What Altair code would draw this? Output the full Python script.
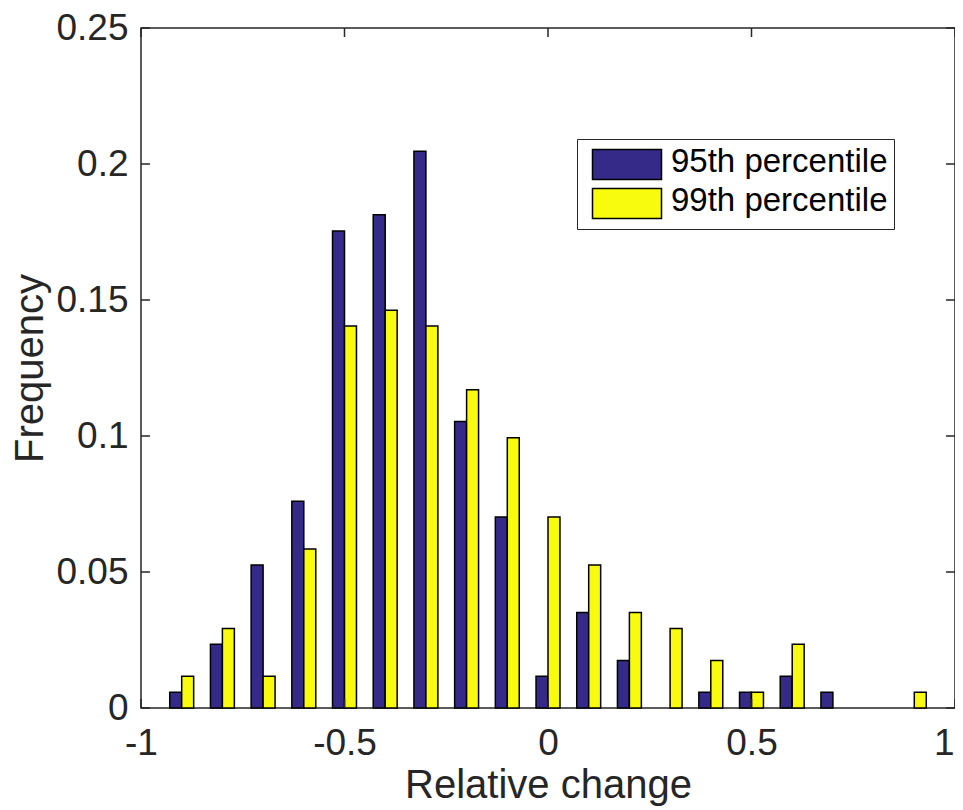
import altair as alt
import pandas as pd

# ---- data ----
centers = [-0.9, -0.8, -0.7, -0.6, -0.5, -0.4, -0.3, -0.2, -0.1, 0.0,
           0.1, 0.2, 0.3, 0.4, 0.5, 0.6, 0.7, 0.8, 0.9]
freq_95 = [0.0058, 0.0234, 0.0526, 0.0760, 0.1754, 0.1813, 0.2047, 0.1053, 0.0702, 0.0117,
           0.0351, 0.0175, 0.0, 0.0058, 0.0058, 0.0117, 0.0058, 0.0, 0.0]
freq_99 = [0.0117, 0.0292, 0.0117, 0.0585, 0.1404, 0.1462, 0.1404, 0.1170, 0.0994, 0.0702,
           0.0526, 0.0351, 0.0292, 0.0175, 0.0058, 0.0234, 0.0, 0.0, 0.0058]
series_names = ["95th percentile", "99th percentile"]
series_colors = ["#352A87", "#F9FB0E"]
x_ticks = [-1, -0.5, 0, 0.5, 1]
y_ticks = [0, 0.05, 0.1, 0.15, 0.2, 0.25]

# ---- layout constants ----
W, H = 814, 680
BAR_W = 0.0294          # bar width in data units
TICK = 9                # inward tick length (px)
FONT = "Liberation Sans"
AX_COL = "#262626"

rows = []
for c, a, b in zip(centers, freq_95, freq_99):
    rows.append({"center": c, "freq": a, "series": series_names[0]})
    rows.append({"center": c, "freq": b, "series": series_names[1]})
df = pd.DataFrame(rows)

xscale = alt.Scale(domain=[-1, 1], nice=False, zero=False)
yscale = alt.Scale(domain=[0, 0.25], nice=False)

last_x = x_ticks[-1]
x_axis = alt.Axis(values=x_ticks, title="Relative change",
                  labelExpr="toString(datum.value)",
                  labelAlign={"condition": {"test": f"datum.value == {last_x}", "value": "right"},
                              "value": "center"},
                  labelOffset={"condition": {"test": f"datum.value == {last_x}", "value": -1},
                               "value": 0},
                  titleX=W / 2, titleY=89, titleBaseline="alphabetic",
                  titleAnchor="middle", titleAlign="center",
                  labelPadding=17)
y_axis = alt.Axis(values=y_ticks, title="Frequency",
                  labelExpr="toString(datum.value)",
                  titleX=-111, titleY=H / 2, titleAngle=-90,
                  titleAlign="center", titleBaseline="middle",
                  labelPadding=13)

bars = alt.Chart(df).transform_filter(
    "datum.freq > 0"
).transform_calculate(
    x0=f"datum.series == '{series_names[0]}' ? datum.center - {BAR_W} : datum.center",
    x1=f"datum.series == '{series_names[0]}' ? datum.center : datum.center + {BAR_W}",
).mark_bar(stroke="black", strokeWidth=1.5).encode(
    x=alt.X("x0:Q", scale=xscale, axis=x_axis),
    x2="x1:Q",
    y=alt.Y("freq:Q", scale=yscale, stack=False, axis=y_axis),
    y2=alt.datum(0),
    color=alt.Color("series:N",
                    scale=alt.Scale(domain=series_names, range=series_colors),
                    legend=alt.Legend(title=None, orient="none",
                                      legendX=436, legendY=111,
                                      symbolType="M-0.5,-0.833H4.1V1.167H-0.5Z",
                                      symbolSize=900,
                                      symbolStrokeColor="black",
                                      symbolStrokeWidth=1.5,
                                      symbolOpacity=1,
                                      labelFontSize=33, labelFont=FONT,
                                      labelColor="black", labelOffset=54.5,
                                      labelLimit=500,
                                      rowPadding=1, padding=6.5,
                                      strokeColor=AX_COL, fillColor="white",
                                      cornerRadius=0)),
)

xt = pd.DataFrame({"x0": x_ticks})
yt = pd.DataFrame({"freq": y_ticks})

bottom_ticks = alt.Chart(xt).mark_rule(color=AX_COL, strokeWidth=1.5).encode(
    x=alt.X("x0:Q", scale=xscale, axis=x_axis),
    y=alt.value(H), y2=alt.value(H - TICK))
top_ticks = alt.Chart(xt).mark_rule(color=AX_COL, strokeWidth=1.5).encode(
    x=alt.X("x0:Q", scale=xscale, axis=x_axis),
    y=alt.value(0), y2=alt.value(TICK))
left_ticks = alt.Chart(yt).mark_rule(color=AX_COL, strokeWidth=1.5).encode(
    y=alt.Y("freq:Q", scale=yscale, axis=y_axis),
    x=alt.value(0), x2=alt.value(TICK))
right_ticks = alt.Chart(yt).mark_rule(color=AX_COL, strokeWidth=1.5).encode(
    y=alt.Y("freq:Q", scale=yscale, axis=y_axis),
    x=alt.value(W), x2=alt.value(W - TICK))

chart = alt.layer(bars, bottom_ticks, top_ticks, left_ticks, right_ticks).properties(
    width=W, height=H,
    autosize=alt.AutoSizeParams(type="none"),
    padding={"left": 133, "top": 20, "right": 0, "bottom": 100},
    background="white",
).configure_view(
    stroke=AX_COL, strokeWidth=1.5
).configure_axis(
    grid=False, domain=False, ticks=False,
    labelFont=FONT, labelFontSize=37, labelColor=AX_COL,
    titleFont=FONT, titleFontSize=40, titleColor=AX_COL, titleFontWeight="normal",
    labelFlush=False, labelOverlap=False,
)

chart.save("out.html", embed_options={"renderer": "svg", "actions": False})
